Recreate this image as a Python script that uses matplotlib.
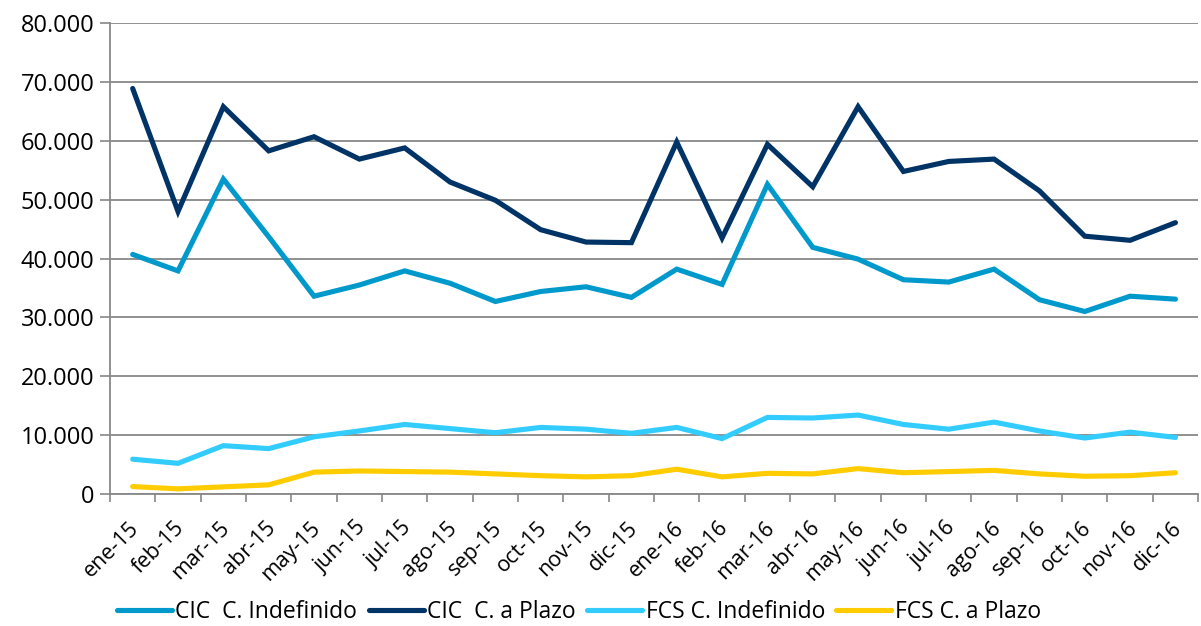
import matplotlib
matplotlib.use("Agg")
import matplotlib.pyplot as plt
import matplotlib.transforms as mtransforms
from matplotlib.ticker import FuncFormatter, MultipleLocator

months = ["ene-15", "feb-15", "mar-15", "abr-15", "may-15", "jun-15", "jul-15", "ago-15",
          "sep-15", "oct-15", "nov-15", "dic-15", "ene-16", "feb-16", "mar-16", "abr-16",
          "may-16", "jun-16", "jul-16", "ago-16", "sep-16", "oct-16", "nov-16", "dic-16"]

cic_indef = [40700, 37900, 53500, 43700, 33600, 35500, 37900, 35800, 32700, 34400, 35200, 33400,
             38200, 35600, 52600, 41900, 39900, 36400, 36000, 38200, 33000, 31000, 33600, 33100]
cic_plazo = [68900, 48000, 65800, 58300, 60700, 56900, 58800, 53000, 49900, 44900, 42800, 42700,
             59800, 43500, 59400, 52200, 65800, 54800, 56500, 56900, 51500, 43800, 43100, 46100]
fcs_indef = [5900, 5200, 8200, 7700, 9700, 10700, 11800, 11100, 10400, 11300, 11000, 10300,
             11300, 9400, 13000, 12900, 13400, 11800, 11000, 12200, 10700, 9500, 10500, 9600]
fcs_plazo = [1250, 860, 1200, 1540, 3700, 3900, 3800, 3700, 3400, 3100, 2900, 3100,
             4200, 2900, 3500, 3400, 4300, 3600, 3800, 4000, 3400, 3000, 3100, 3600]

series = [
    ("CIC  C. Indefinido", cic_indef, "#0099CC"),
    ("CIC  C. a Plazo", cic_plazo, "#003366"),
    ("FCS C. Indefinido", fcs_indef, "#33CCFF"),
    ("FCS C. a Plazo", fcs_plazo, "#FFCC00"),
]

plt.rcParams['font.family'] = ['Open Sans', 'DejaVu Sans']

fig = plt.figure(figsize=(12.01, 6.26), dpi=100)
ax = fig.add_axes([0.0916, 0.211, 0.906, 0.752])

x = list(range(len(months)))
for label, vals, col in series:
    ax.plot(x, vals, color=col, lw=3.7, label=label, solid_joinstyle='miter', solid_capstyle='round')

ax.set_xlim(-0.5, len(months) - 0.5)
ax.set_ylim(0, 80000)
ax.yaxis.set_major_locator(MultipleLocator(10000))
ax.yaxis.set_major_formatter(FuncFormatter(lambda v, p: f"{int(v):,}".replace(",", ".")))
ax.grid(axis='y', color='#888888', lw=1.3)
ax.set_axisbelow(True)

ax.set_xticks([i - 0.5 for i in range(len(months) + 1)], minor=False)
ax.set_xticklabels([])
ax.set_xticks(x, minor=True)
ax.set_xticklabels(months, minor=True, rotation=45, ha='right', rotation_mode='anchor', fontsize=15.5)
ax.tick_params(axis='x', which='minor', length=0, pad=17)
ax.tick_params(axis='x', which='major', length=6, color='#888888', width=1.2)
ax.tick_params(axis='y', length=7, color='#888888', width=1.2, labelsize=17, pad=4)

offset = mtransforms.ScaledTranslation(-4 / 100, 0, fig.dpi_scale_trans)
for lbl in ax.get_xticklabels(minor=True):
    lbl.set_transform(lbl.get_transform() + offset)

for s in ['top', 'right']:
    ax.spines[s].set_visible(False)
for s in ['left', 'bottom']:
    ax.spines[s].set_color('#888888')
    ax.spines[s].set_linewidth(1.3)

fig.legend(loc='center', bbox_to_anchor=(0.482, 0.022), ncol=4, frameon=False,
           fontsize=16.5, handlelength=2.4, handletextpad=0.15, columnspacing=0.5)

fig.savefig("out.png", dpi=100)
